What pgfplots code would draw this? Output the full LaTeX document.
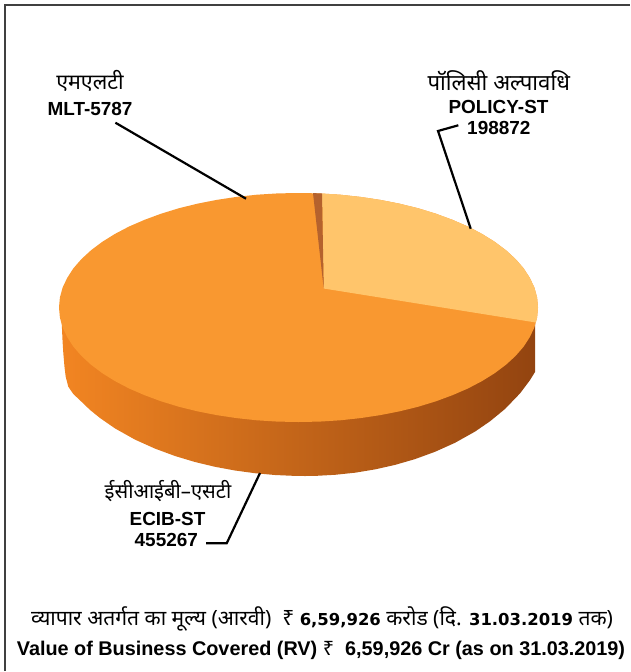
\documentclass[border=0pt]{standalone}
\usepackage{fontspec}
\usepackage{pgfplots}
\pgfplotsset{compat=1.18}
\setmainfont{Liberation Sans}
\newfontfamily\hin[Script=Devanagari]{Noto Sans}
\newfontfamily\wide{DejaVu Sans}
\definecolor{mainor}{HTML}{F99830}
\definecolor{lightor}{HTML}{FFC56B}
\definecolor{sliver}{HTML}{B5622D}
\definecolor{sideL}{HTML}{F28522}
\definecolor{sideM}{HTML}{BE601D}
\definecolor{sideR}{HTML}{934410}
\newcommand{\bl}{\fontsize{19}{21}\selectfont\bfseries}
\newcommand{\hn}[1]{\fontsize{#1}{24}\selectfont\hin}
\newcommand{\dg}{\wide\bfseries\fontsize{16.5}{18}\selectfont}
\begin{document}
\begin{tikzpicture}
\begin{axis}[
    width=631bp, height=672bp, scale only axis,
    xmin=0, xmax=631, ymin=0, ymax=672,
    y dir=reverse,
    hide axis,
    clip=false,
    ]
% keeps the page at the full picture size
\addplot[draw=none, mark=none, forget plot] coordinates {(0,0) (631,672)};
% frame, left and top only
\addplot[draw=black!75, line width=1.5bp, mark=none] coordinates {(5,671) (5,5) (630,5)};

% side wall
\addplot[draw=none, mark=none, left color=sideL, middle color=sideM, right color=sideR] coordinates {
(61.7,322) (62.5,340) (63.3,353) (64.5,367) (65.7,376.7) (68.3,386.7) (73.3,394) (80,400.3) (90,409.9) (100,418)
(115,428.4) (135,439.6) (155,448.6) (175,456) (195,462) (215,466.8) (235,470.5) (255,473.2) (275,475) (295,475.9)
(305,476) (315,475.9) (335,474.8) (355,472.7) (375,469.4) (395,464.9) (415,459.1) (435,451.8) (455,442.8) (475,431.6)
(490,421.3) (505,409) (520,393.4) (530,380.1) (535,372) (535,322)};

% ECIB-ST 455267, top face
\addplot[draw=none, fill=mainor, mark=none] coordinates {
(538.0,307.5) (537.1,297.5) (534.4,287.6) (529.8,277.9) (523.6,268.3) (515.6,259.1) (505.9,250.2) (494.7,241.8)
(482.0,233.9) (467.9,226.5) (452.4,219.8) (435.9,213.7) (418.3,208.3) (399.7,203.7) (380.4,199.9) (360.5,196.9)
(340.1,194.7) (319.4,193.4) (298.5,193.0) (277.6,193.4) (256.9,194.7) (236.5,196.9) (216.6,199.9) (197.3,203.7)
(178.7,208.3) (161.1,213.7) (144.6,219.8) (129.1,226.5) (115.0,233.9) (102.3,241.8) (91.1,250.2) (81.4,259.1)
(73.4,268.3) (67.2,277.9) (62.6,287.6) (59.9,297.5) (59.0,307.5) (59.9,317.5) (62.6,327.4) (67.2,337.1)
(73.4,346.7) (81.4,355.9) (91.1,364.8) (102.3,373.2) (115.0,381.1) (129.1,388.5) (144.6,395.2) (161.1,401.3)
(178.7,406.7) (197.3,411.3) (216.6,415.1) (236.5,418.1) (256.9,420.3) (277.6,421.6) (298.5,422.0) (319.4,421.6)
(340.1,420.3) (360.5,418.1) (380.4,415.1) (399.7,411.3) (418.3,406.7) (435.9,401.3) (452.4,395.2) (467.9,388.5)
(482.0,381.1) (494.7,373.2) (505.9,364.8) (515.6,355.9) (523.6,346.7) (529.8,337.1) (534.4,327.4) (537.1,317.5)};

% POLICY-ST 198872
\addplot[draw=none, fill=lightor, mark=none] coordinates {
(323.7,288.5) (322,193.5) (340.1,194.7) (360.5,196.9) (380.4,199.9) (399.7,203.7) (418.3,208.3) (435.9,213.7)
(452.4,219.8) (467.9,226.5) (482.0,233.9) (494.7,241.8) (505.9,250.2) (515.6,259.1) (523.6,268.3) (529.8,277.9)
(534.4,287.6) (537.1,297.5) (538.0,307.5) (537.1,317.5) (535.8,322.5)};

% MLT-5787
\addplot[draw=none, fill=sliver, mark=none] coordinates {(313,193.1) (322,193.5) (323.7,288.5)};

% leader lines
\addplot[black, line width=2.2bp, mark=none] coordinates {(115.4,122.7) (246,198.7)};
\addplot[black, line width=2.2bp, mark=none] coordinates {(458.3,125.3) (438,131) (470.7,228.7)};
\addplot[black, line width=2.2bp, mark=none] coordinates {(260,473) (226.7,543.3) (206,543.3)};

% labels
\node[anchor=base, inner sep=0pt, font=\hn{21.5}] at (axis cs:90,90) {एमएलटी};
\node[anchor=base, inner sep=0pt, font=\bl] at (axis cs:90,115.7) {MLT-5787};
\node[anchor=base, inner sep=0pt, font=\hn{22.3}] at (axis cs:498.7,90.7) {पॉलिसी अल्पावधि};
\node[anchor=base, inner sep=0pt, font=\bl] at (axis cs:498.5,113.3) {POLICY-ST};
\node[anchor=base, inner sep=0pt, font=\bl] at (axis cs:498.8,134.7) {198872};
\node[anchor=base, inner sep=0pt, font=\hn{20.3}] at (axis cs:168,498.3) {ईसीआईबी–एसटी};
\node[anchor=base, inner sep=0pt, font=\bl] at (axis cs:167.5,525.3) {ECIB-ST};
\node[anchor=base, inner sep=0pt, font=\bl] at (axis cs:166.3,546) {455267};

% footer
\node[anchor=base, inner sep=0pt, font=\hn{21.1}] at (axis cs:322,625.5) {व्यापार अतर्गत का मूल्य (आरवी)\ \ ₹ {\dg 6,59,926} करोड (दि. {\dg 31.03.2019} तक)};
\node[anchor=base, inner sep=0pt, font=\fontsize{19.9}{22}\selectfont\bfseries] at (axis cs:321,655) {Value of Business Covered (RV) {\hin\mdseries ₹}\ \ 6,59,926 Cr (as on 31.03.2019)};
\end{axis}
\end{tikzpicture}
\end{document}
